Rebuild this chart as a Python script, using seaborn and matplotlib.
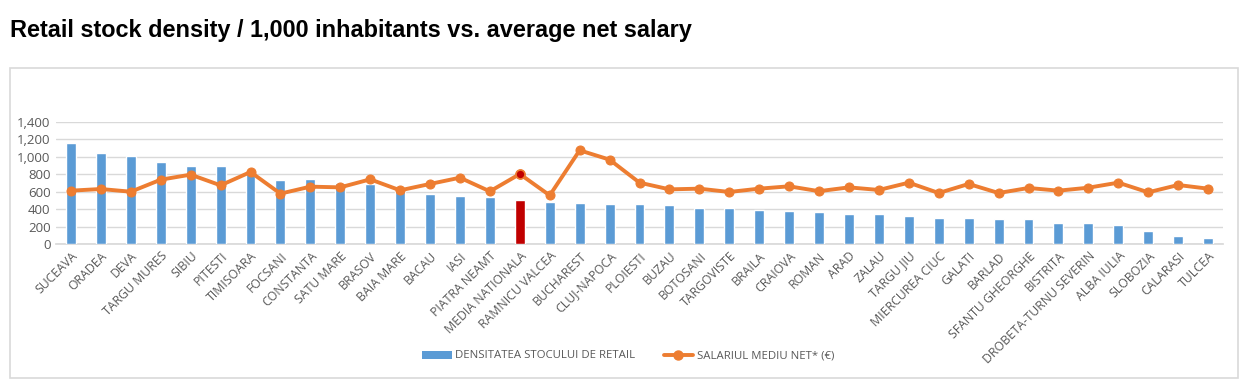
import matplotlib
matplotlib.use("Agg")
import matplotlib.pyplot as plt
import seaborn as sns
import numpy as np
import pandas as pd
from matplotlib.lines import Line2D
from matplotlib.patches import Patch, Rectangle

cities = ["SUCEAVA", "ORADEA", "DEVA", "TARGU MURES", "SIBIU", "PITESTI", "TIMISOARA",
          "FOCSANI", "CONSTANTA", "SATU MARE", "BRASOV", "BAIA MARE", "BACAU", "IASI",
          "PIATRA NEAMT", "MEDIA NATIONALA", "RAMNICU VALCEA", "BUCHAREST", "CLUJ-NAPOCA",
          "PLOIESTI", "BUZAU", "BOTOSANI", "TARGOVISTE", "BRAILA", "CRAIOVA", "ROMAN",
          "ARAD", "ZALAU", "TARGU JIU", "MIERCUREA CIUC", "GALATI", "BARLAD",
          "SFANTU GHEORGHE", "BISTRITA", "DROBETA-TURNU SEVERIN", "ALBA IULIA",
          "SLOBOZIA", "CALARASI", "TULCEA"]
density = [1159, 1044, 1010, 937, 895, 891, 812, 738, 742, 696, 689, 620, 574, 551,
           539, 505, 482, 470, 455, 455, 448, 409, 409, 386, 379, 367, 344, 340, 321,
           298, 298, 283, 283, 241, 237, 214, 145, 88, 65]
salary = [612, 631, 600, 738, 796, 673, 826, 578, 658, 650, 742, 616, 689, 761,
          604, 803, 558, 1075, 968, 704, 627, 635, 597, 635, 662, 606, 650, 620, 704,
          585, 689, 585, 643, 612, 646, 704, 593, 677, 635]
highlight = "MEDIA NATIONALA"
legend_labels = ["DENSITATEA STOCULUI DE RETAIL", "SALARIUL MEDIU NET* (€)"]
title = "Retail stock density / 1,000 inhabitants vs. average net salary"

BLUE = "#5B9BD5"
ORANGE = "#ED7D31"
RED = "#C00000"
GRAY_TXT = "#595959"

sns.set_theme(style="white")
plt.rcParams['font.family'] = ['Open Sans', 'DejaVu Sans']

fig = plt.figure(figsize=(12.47, 3.86), dpi=100)
ax = fig.add_axes([56/1247, 1-244/386, (1223-56)/1247, (244-122)/386])

df = pd.DataFrame({"city": cities, "density": density, "salary": salary})
palette = {c: (RED if c == highlight else BLUE) for c in cities}
sns.barplot(data=df, x="city", y="density", hue="city", palette=palette,
            width=0.33, legend=False, ax=ax, saturation=1, zorder=2)

xs = np.arange(len(cities))
sns.lineplot(x=xs, y=salary, ax=ax, color=ORANGE, linewidth=2.8, marker="o",
             markersize=6.5, markeredgecolor=ORANGE, zorder=3)
hi = cities.index(highlight)
ax.plot([hi], [salary[hi]], marker="o", markersize=6.5, markerfacecolor=RED,
        markeredgecolor=ORANGE, markeredgewidth=1.2, zorder=4)

ax.set_xlim(-0.5, len(cities) - 0.5)
ax.set_ylim(0, 1400)
ax.set_yticks(range(0, 1401, 200))
ax.set_yticklabels([f"{v:,}" for v in range(0, 1401, 200)], fontsize=9.5, color=GRAY_TXT)
ax.yaxis.grid(True, color="#D9D9D9", linewidth=1, zorder=0)
ax.set_axisbelow(True)
ax.set_xlabel("")
ax.set_ylabel("")
ax.set_xticks(xs)
ax.set_xticklabels(cities, rotation=45, ha="right", rotation_mode="anchor",
                   fontsize=8.8, color=GRAY_TXT)
ax.tick_params(axis="both", length=0, pad=4)
for s in ["top", "right", "left"]:
    ax.spines[s].set_visible(False)
ax.spines["bottom"].set_color("#D9D9D9")
ax.spines["bottom"].set_zorder(1)

fig.text(10/1247, 1-30/386, title, fontsize=16.9, fontweight="bold",
         family=["Liberation Sans", "DejaVu Sans"], color="black", va="center", ha="left")

fig.patches.append(Rectangle((10/1247, 1-378/386), (1238-10)/1247, (378-68)/386,
                             transform=fig.transFigure, fill=False,
                             edgecolor="#D9D9D9", linewidth=1.2))

handles = [Patch(facecolor=BLUE, edgecolor="none"),
           Line2D([0], [0], color=ORANGE, linewidth=2.8, marker="o", markersize=6.5)]
fig.legend(handles, legend_labels, loc="center", bbox_to_anchor=(628/1247, 1-356/386),
           ncol=2, frameon=False, fontsize=8.2, labelcolor=GRAY_TXT,
           handlelength=2.6, handletextpad=0.3, columnspacing=2.5)

fig.savefig("out.png", dpi=100)
